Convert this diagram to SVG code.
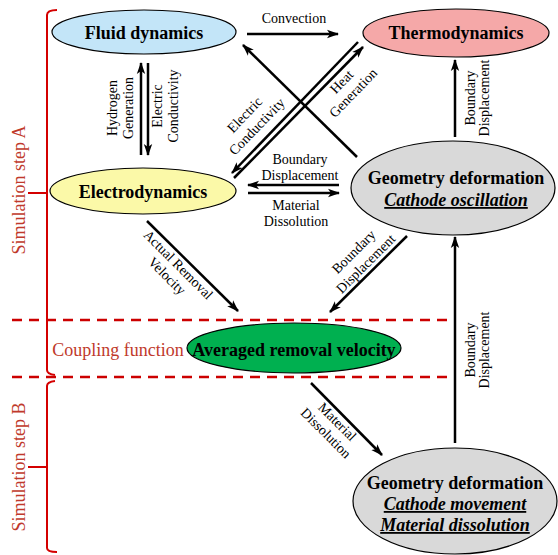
<svg xmlns="http://www.w3.org/2000/svg" width="558" height="555" viewBox="0 0 558 555">
<defs>
<marker id="ah" viewBox="0 0 12 10" refX="11" refY="5" markerWidth="12" markerHeight="10" markerUnits="userSpaceOnUse" orient="auto">
<path d="M0,0.8 L12,5 L0,9.2 L3,5 z" fill="#000"/>
</marker>
</defs>
<rect width="558" height="555" fill="#fff"/>

<g id="annotations" fill="none">
<path stroke="#cc0000" stroke-width="2.5" stroke-dasharray="10 7" d="M12,320 L455,320"/>
<path stroke="#cc0000" stroke-width="2.5" stroke-dasharray="10 7" d="M12,377 L455,377"/>
<path stroke="#d40000" stroke-width="2" d="M57,10 Q47,10 47,15 L47,370 Q47,374 55,375"/>
<path stroke="#d40000" stroke-width="2" d="M47,193 L28,193"/>
<path stroke="#d40000" stroke-width="2" d="M55,381 Q47,382 47,386 L47,548 Q47,552 57,552"/>
<path stroke="#d40000" stroke-width="2" d="M47,467 L28,467"/>
</g>
<g id="section-labels" font-family="Liberation Serif" font-size="18" fill="#c0392b" text-anchor="middle">
<text font-family="Liberation Serif" transform="translate(25,190) rotate(-90)">Simulation step A</text>
<text font-family="Liberation Serif" transform="translate(25,467) rotate(-90)">Simulation step B</text>
<text font-family="Liberation Serif" x="118" y="356">Coupling function</text>
</g>

<g id="connectors" stroke="#000" stroke-width="2.5" fill="none" marker-end="url(#ah)">
<path d="M247,34 L338,34"/>
<path d="M141,155 L141,63"/>
<path d="M148,63 L148,155"/>
<path d="M357,157 L243,45"/>
<path d="M358,42 L232,173"/>
<path d="M234,178 L363,47"/>
<path d="M339,185 L248,185"/>
<path d="M248,193 L339,193"/>
<path d="M455,137 L455,60"/>
<path d="M147,221 L238,311"/>
<path d="M407,236 L330,312"/>
<path d="M455,443 L455,237"/>
<path d="M311,383 L382,455"/>
</g>
<g id="connector-labels" font-family="Liberation Serif" font-size="14" fill="#000" text-anchor="middle">
<text font-family="Liberation Serif" x="294" y="23">Convection</text>
<text font-family="Liberation Serif" transform="translate(117,108) rotate(-90)"><tspan x="0" dy="0">Hydrogen</tspan><tspan x="0" dy="16">Generation</tspan></text>
<text font-family="Liberation Serif" transform="translate(162,106) rotate(-90)"><tspan x="0" dy="0">Electric</tspan><tspan x="0" dy="16">Conductivity</tspan></text>
<text font-family="Liberation Serif" transform="translate(248,118) rotate(-46)"><tspan x="0" dy="0">Electric</tspan><tspan x="0" dy="17">Conductivity</tspan></text>
<text font-family="Liberation Serif" transform="translate(345,85) rotate(-46)"><tspan x="0" dy="0">Heat</tspan><tspan x="0" dy="16">Generation</tspan></text>
<text font-family="Liberation Serif" x="300" y="164">Boundary</text>
<text font-family="Liberation Serif" x="300" y="180">Displacement</text>
<text font-family="Liberation Serif" x="296" y="210">Material</text>
<text font-family="Liberation Serif" x="296" y="226">Dissolution</text>
<text font-family="Liberation Serif" transform="translate(475,98) rotate(-90)"><tspan x="0" dy="0">Boundary</tspan><tspan x="0" dy="14">Displacement</tspan></text>
<text font-family="Liberation Serif" transform="translate(175,268) rotate(45)"><tspan x="0" dy="0">Actual Removal</tspan><tspan x="0" dy="16">Velocity</tspan></text>
<text font-family="Liberation Serif" transform="translate(357,255) rotate(-45)"><tspan x="0" dy="0">Boundary</tspan><tspan x="0" dy="17">Displacement</tspan></text>
<text font-family="Liberation Serif" transform="translate(475,350) rotate(-90)"><tspan x="0" dy="0">Boundary</tspan><tspan x="0" dy="14">Displacement</tspan></text>
<text font-family="Liberation Serif" transform="translate(334,425) rotate(45)"><tspan x="0" dy="0">Material</tspan><tspan x="0" dy="16">Dissolution</tspan></text>
</g>

<g id="fluid" font-family="Liberation Serif" font-size="18" font-weight="bold" text-anchor="middle">
<ellipse cx="144" cy="32" rx="92" ry="22" fill="#c3e5f8" stroke="#000" stroke-width="1.2"/>
<text font-family="Liberation Serif" x="144" y="39">Fluid dynamics</text>
</g>
<g id="thermo" font-family="Liberation Serif" font-size="18" font-weight="bold" text-anchor="middle">
<ellipse cx="456" cy="33" rx="93" ry="24" fill="#f5a8a8" stroke="#000" stroke-width="1.2"/>
<text font-family="Liberation Serif" x="456" y="39">Thermodynamics</text>
</g>
<g id="electro" font-family="Liberation Serif" font-size="18" font-weight="bold" text-anchor="middle">
<ellipse cx="143" cy="191" rx="93" ry="23" fill="#fbf9a8" stroke="#000" stroke-width="1.2"/>
<text font-family="Liberation Serif" x="143" y="198">Electrodynamics</text>
</g>
<g id="geomA" font-family="Liberation Serif" font-size="18" font-weight="bold" text-anchor="middle">
<ellipse cx="453" cy="188" rx="102" ry="47" fill="#d9d9d9" stroke="#000" stroke-width="1.2"/>
<text font-family="Liberation Serif" x="456" y="184">Geometry deformation</text>
<text font-family="Liberation Serif" font-style="italic" text-decoration="underline" x="456" y="206">Cathode oscillation</text>
</g>
<g id="averaged" font-family="Liberation Serif" font-size="18" font-weight="bold" text-anchor="middle">
<ellipse cx="294" cy="348" rx="107" ry="25" fill="#00b050" stroke="#000" stroke-width="1.2"/>
<text font-family="Liberation Serif" x="294" y="356">Averaged removal velocity</text>
</g>
<g id="geomB" font-family="Liberation Serif" font-size="18" font-weight="bold" text-anchor="middle">
<ellipse cx="455" cy="501" rx="102" ry="53" fill="#d9d9d9" stroke="#000" stroke-width="1.2"/>
<text font-family="Liberation Serif" x="455" y="489">Geometry deformation</text>
<text font-family="Liberation Serif" font-style="italic" text-decoration="underline" x="455" y="510">Cathode movement</text>
<text font-family="Liberation Serif" font-style="italic" text-decoration="underline" x="455" y="531">Material dissolution</text>
</g>
</svg>
